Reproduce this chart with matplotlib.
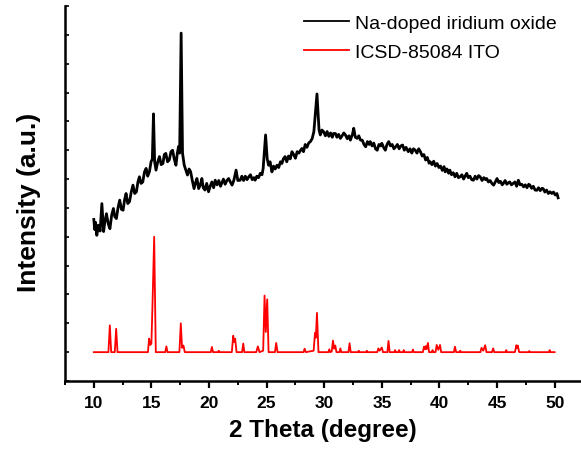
import matplotlib
matplotlib.use("Agg")
import matplotlib.pyplot as plt
from matplotlib.ticker import MultipleLocator

plt.rcParams['font.family'] = ['Liberation Sans', 'DejaVu Sans']

# ---- data ----
black_x = [10.0, 10.08, 10.15, 10.26, 10.4, 10.55, 10.7, 10.78, 10.85, 10.95, 11.1, 11.25, 11.4, 11.55, 11.7,
           11.82, 11.96, 12.1, 12.25, 12.4, 12.54, 12.68, 12.8, 12.95, 13.1, 13.25, 13.4, 13.55, 13.7, 13.83,
           13.96, 14.1, 14.25, 14.4, 14.54, 14.68, 14.83, 14.97, 15.08, 15.18, 15.28, 15.4, 15.55, 15.7, 15.85,
           16.0, 16.12, 16.25, 16.4, 16.55, 16.7, 16.84, 16.98, 17.13, 17.25, 17.36, 17.45, 17.58, 17.7, 17.85,
           18.0, 18.13, 18.27, 18.4, 18.55, 18.7, 18.85, 18.95, 19.1, 19.25, 19.38, 19.5, 19.65, 19.8, 19.96,
           20.1, 20.25, 20.4, 20.54, 20.7, 20.85, 21.0, 21.1, 21.25, 21.4, 21.55, 21.7, 21.85, 22.0, 22.15,
           22.35, 22.5, 22.7, 22.85, 23.0, 23.15, 23.3, 23.45, 23.6, 23.75, 23.9, 24.0, 24.15, 24.3, 24.45,
           24.6, 24.7, 24.91, 25.05, 25.17, 25.3, 25.46, 25.6, 25.75, 25.9, 26.05, 26.2, 26.33, 26.45, 26.6,
           26.75, 26.9, 27.05, 27.2, 27.35, 27.5, 27.65, 27.8, 27.95, 28.06, 28.2, 28.35, 28.5, 28.65, 28.8,
           28.95, 29.1, 29.37, 29.55, 29.66, 29.8, 29.95, 30.1, 30.25, 30.4, 30.55, 30.7, 30.8, 30.97, 31.1,
           31.25, 31.4, 31.55, 31.7, 31.84, 32.0, 32.15, 32.27, 32.45, 32.56, 32.7, 32.85, 33.0, 33.15, 33.3,
           33.45, 33.6, 33.75, 33.9, 34.0, 34.15, 34.3, 34.45, 34.6, 34.75, 34.9, 35.0, 35.15, 35.3, 35.45,
           35.6, 35.75, 35.9, 36.05, 36.2, 36.35, 36.5, 36.65, 36.8, 36.95, 37.1, 37.3, 37.45, 37.6, 37.75,
           37.9, 38.05, 38.2, 38.35, 38.5, 38.65, 38.8, 38.95, 39.1, 39.2, 39.35, 39.5, 39.65, 39.8, 39.95,
           40.1, 40.25, 40.4, 40.5, 40.65, 40.8, 40.9, 41.05, 41.2, 41.35, 41.5, 41.65, 41.8, 41.95, 42.1,
           42.25, 42.37, 42.5, 42.65, 42.8, 42.95, 43.1, 43.25, 43.4, 43.53, 43.7, 43.85, 44.0, 44.1, 44.25,
           44.4, 44.55, 44.7, 44.85, 45.0, 45.15, 45.3, 45.45, 45.55, 45.7, 45.85, 46.0, 46.1, 46.25, 46.4,
           46.55, 46.7, 46.85, 47.0, 47.15, 47.3, 47.45, 47.6, 47.75, 47.85, 48.0, 48.15, 48.3, 48.45, 48.6,
           48.75, 48.9, 49.0, 49.15, 49.3, 49.45, 49.6, 49.75, 49.9, 50.05, 50.2, 50.3]
black_y = [5.6, 5.25, 5.5, 5.05, 5.4, 5.2, 6.15, 5.6, 5.18, 5.5, 5.8, 5.45, 5.28, 5.75, 5.98,
           5.7, 5.63, 6.0, 6.27, 5.95, 5.92, 6.3, 6.5, 6.15, 6.22, 6.55, 6.79, 6.5, 6.56, 6.9,
           7.08, 6.85, 6.9, 7.25, 7.37, 7.1, 7.26, 7.6, 7.7, 9.26, 7.6, 7.31, 7.6, 7.78, 7.5,
           7.54, 7.85, 7.89, 7.6, 7.66, 7.95, 8.0, 7.7, 7.48, 7.9, 8.13, 7.9, 12.06, 7.9, 7.48,
           7.3, 7.14, 7.35, 7.26, 6.95, 6.67, 6.9, 7.02, 6.67, 6.8, 7.02, 6.7, 6.62, 6.85, 6.56,
           6.75, 6.9, 6.7, 6.96, 6.8, 6.95, 6.75, 6.85, 7.0, 6.82, 6.95, 7.02, 6.9, 6.79, 6.95,
           7.31, 6.95, 6.96, 7.1, 6.95, 7.1, 6.98, 7.08, 7.15, 6.98, 7.05, 6.96, 7.1, 7.05, 7.2,
           7.15, 7.37, 8.53, 7.7, 7.48, 7.6, 7.25, 7.45, 7.35, 7.48, 7.4, 7.6, 7.54, 7.7, 7.78,
           7.6, 7.8, 7.7, 7.95, 7.85, 7.72, 7.95, 7.9, 8.0, 8.06, 7.95, 8.2, 8.1, 8.25, 8.3,
           8.4, 8.64, 9.95, 8.7, 8.53, 8.7, 8.64, 8.5, 8.65, 8.48, 8.6, 8.45, 8.58, 8.58, 8.45,
           8.55, 8.41, 8.5, 8.6, 8.53, 8.4, 8.5, 8.35, 8.55, 8.76, 8.45, 8.41, 8.5, 8.35, 8.35,
           8.2, 8.12, 8.3, 8.2, 8.3, 8.15, 8.25, 8.05, 8.0, 8.2, 8.15, 8.24, 8.1, 8.0, 8.2,
           8.3, 8.15, 8.2, 8.05, 8.12, 8.2, 8.05, 8.15, 8.18, 8.0, 8.1, 7.95, 8.05, 7.9, 8.05,
           8.0, 7.9, 8.05, 7.95, 7.8, 7.85, 7.66, 7.75, 7.55, 7.6, 7.5, 7.62, 7.45, 7.54, 7.4,
           7.45, 7.3, 7.43, 7.25, 7.35, 7.2, 7.31, 7.15, 7.22, 7.08, 7.2, 7.05, 7.08, 7.15, 7.0,
           7.12, 7.2, 7.05, 7.1, 6.98, 6.96, 7.1, 7.0, 7.12, 7.08, 6.95, 7.05, 6.98, 7.02, 6.9,
           6.95, 6.85, 6.79, 6.9, 7.02, 6.88, 6.92, 6.8, 6.85, 6.95, 6.82, 6.88, 6.9, 6.8, 6.85,
           6.9, 6.75, 6.96, 6.8, 6.82, 6.73, 6.8, 6.7, 6.82, 6.79, 6.68, 6.75, 6.62, 6.61, 6.7,
           6.6, 6.68, 6.67, 6.55, 6.62, 6.5, 6.56, 6.5, 6.55, 6.45, 6.5, 6.35]

red_x = [10.0, 11.27, 11.39, 11.51, 11.82, 11.94, 12.06,
         14.7, 14.8, 14.9, 15.0, 15.09, 15.24, 15.38,
         16.2, 16.3, 16.4, 17.43, 17.55, 17.66, 17.78, 17.9,
         20.15, 20.25, 20.35, 20.78, 20.85, 20.92,
         21.98, 22.1, 22.19, 22.27, 22.39, 22.87, 22.97, 23.07,
         24.1, 24.24, 24.38, 24.7, 24.82, 24.93, 25.05, 25.17,
         25.72, 25.83, 25.95, 28.2, 28.3, 28.4,
         29.08, 29.2, 29.27, 29.37, 29.5,
         30.36, 30.44, 30.52, 30.65, 30.76, 30.86, 30.96, 31.06,
         31.32, 31.4, 31.48, 32.1, 32.2, 32.3, 32.93, 33.0, 33.07, 33.63, 33.7, 33.77,
         34.6, 34.7, 34.8, 35.0, 35.1, 35.48, 35.58, 35.68,
         36.08, 36.15, 36.22, 36.43, 36.5, 36.57, 36.83, 36.9, 36.97, 37.62, 37.7, 37.78,
         38.56, 38.66, 38.73, 38.8, 38.88, 39.0, 39.1, 39.33, 39.4, 39.47,
         39.66, 39.76, 39.9, 40.05, 40.15, 41.25, 41.35, 41.45, 41.73, 41.8, 41.87,
         43.55, 43.65, 43.8, 43.97, 44.08, 44.56, 44.66, 44.76, 45.73, 45.8, 45.87,
         46.55, 46.68, 46.74, 46.8, 46.92, 47.73, 47.8, 47.87, 49.5, 49.57, 49.64, 50.0]
red_y = [1.0, 1.0, 1.93, 1.0, 1.0, 1.81, 1.0,
         1.0, 1.47, 1.25, 1.3, 2.58, 5.0, 1.0,
         1.0, 1.2, 1.0, 1.0, 2.0, 1.15, 1.23, 1.0,
         1.0, 1.18, 1.0, 1.0, 1.05, 1.0,
         1.0, 1.57, 1.35, 1.47, 1.0, 1.0, 1.3, 1.0,
         1.0, 1.2, 1.0, 1.05, 2.96, 1.7, 2.83, 1.0,
         1.0, 1.32, 1.0, 1.0, 1.12, 1.0,
         1.05, 1.67, 1.5, 2.36, 1.0,
         1.0, 1.1, 1.0, 1.02, 1.4, 1.12, 1.23, 1.0,
         1.0, 1.13, 1.0, 1.0, 1.31, 1.0, 1.0, 1.05, 1.0, 1.0, 1.05, 1.0,
         1.0, 1.13, 1.05, 1.16, 1.0, 1.0, 1.39, 1.0,
         1.0, 1.07, 1.0, 1.0, 1.07, 1.0, 1.0, 1.07, 1.0, 1.0, 1.09, 1.0,
         1.0, 1.19, 1.1, 1.21, 1.1, 1.32, 1.0, 1.0, 1.07, 1.0,
         1.0, 1.25, 1.08, 1.25, 1.0, 1.0, 1.19, 1.0, 1.0, 1.05, 1.0,
         1.0, 1.15, 1.05, 1.24, 1.0, 1.0, 1.13, 1.0, 1.0, 1.07, 1.0,
         1.0, 1.24, 1.15, 1.23, 1.0, 1.0, 1.04, 1.0, 1.0, 1.07, 1.0, 1.0]

labels = ["Na-doped iridium oxide", "ICSD-85084 ITO"]
x_ticks = [10, 15, 20, 25, 30, 35, 40, 45, 50]

# ---- figure ----
fig = plt.figure(figsize=(5.81, 4.56), dpi=100)
ax = fig.add_axes([65 / 581, 1 - 382 / 456, (580 - 65) / 581, (382 - 7) / 456])

ax.plot(black_x, black_y, color='black', lw=2.0, label=labels[0])
ax.plot(red_x, red_y, color='#ff0000', lw=1.3, label=labels[1])

ax.set_xlim(7.5, 52.2)
ax.set_ylim(0, 13)

for s in ['top', 'right']:
    ax.spines[s].set_visible(False)
for s in ['left', 'bottom']:
    ax.spines[s].set_linewidth(1.8)

ax.set_xticks(x_ticks)
ax.xaxis.set_minor_locator(MultipleLocator(2.5))
ax.tick_params(axis='x', which='major', direction='out', length=5, width=1.6,
               labelsize=12.5, pad=5)
ax.tick_params(axis='x', which='minor', direction='out', length=3, width=1.4)
for lab in ax.get_xticklabels():
    lab.set_fontweight('bold')

ax.set_yticks(range(0, 14))
ax.tick_params(axis='y', which='major', direction='in', length=3, width=1.2, labelleft=False)

ax.set_xlabel("2 Theta (degree)", fontsize=17.5, fontweight='bold', labelpad=6)
ax.set_ylabel("Intensity (a.u.)", fontsize=19, fontweight='bold')
ax.yaxis.set_label_coords(-(65 - 41) / 515, (382 - 202) / 375)

leg = ax.legend(loc='upper left', bbox_to_anchor=((304 - 65) / 515, (382 - 15) / 375),
                frameon=False, fontsize=14, handlelength=2.3, handletextpad=0.3,
                borderpad=0, borderaxespad=0, labelspacing=0.62)
for line in leg.get_lines():
    line.set_linewidth(1.3)

fig.savefig("out.png", dpi=100)
